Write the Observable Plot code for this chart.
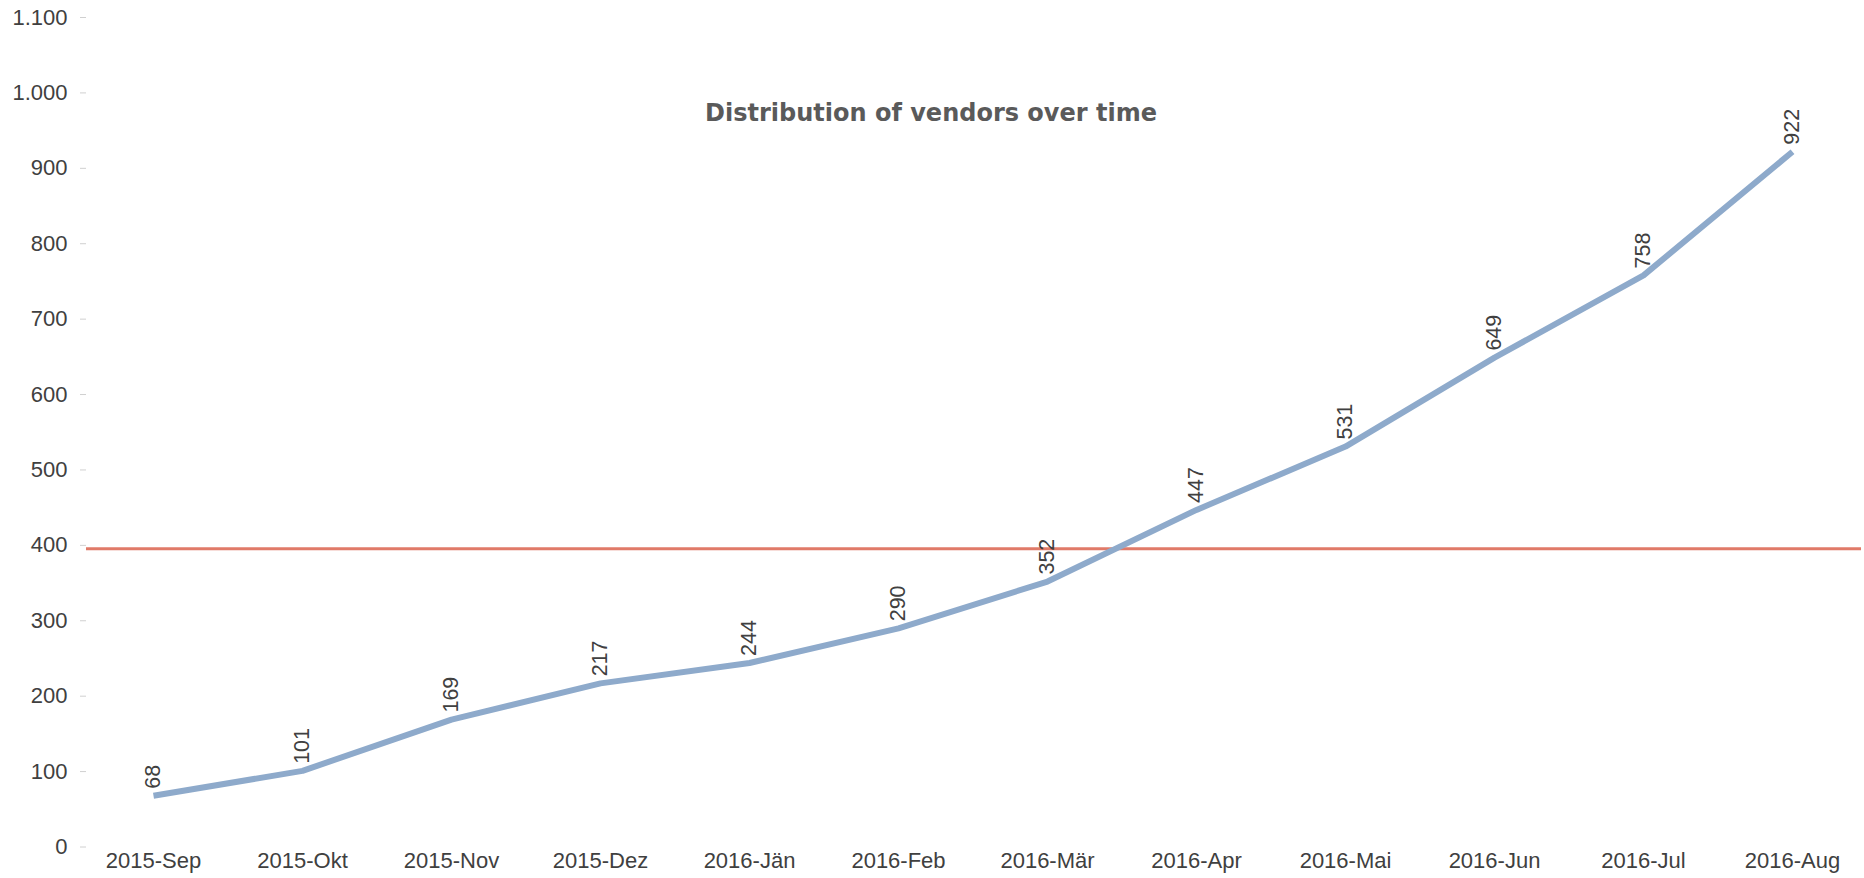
<!DOCTYPE html>
<html>
<head>
<meta charset="utf-8">
<script src="https://cdn.jsdelivr.net/npm/d3@7"></script>
<script src="https://cdn.jsdelivr.net/npm/@observablehq/plot@0.6"></script>
<style>
  html, body { margin: 0; padding: 0; background: #fff; }
  #chart { width: 1864px; height: 878px; }
</style>
</head>
<body>
<div id="chart"></div>
<script>
const months = ["2015-Sep","2015-Okt","2015-Nov","2015-Dez","2016-Jän","2016-Feb","2016-Mär","2016-Apr","2016-Mai","2016-Jun","2016-Jul","2016-Aug"];
const vendors = [68,101,169,217,244,290,352,447,531,649,758,922];
const yTicks = [0,100,200,300,400,500,600,700,800,900,1000,1100];
const title = "Distribution of vendors over time";

const data = months.map((m, i) => ({month: m, value: vendors[i]}));
const avg = d3.mean(vendors);
const deFmt = d3.formatLocale({decimal: ",", thousands: ".", grouping: [3], currency: ["", "€"]}).format(",d");

const chart = Plot.plot({
  width: 1864,
  height: 878,
  marginTop: 17,
  marginBottom: 31.5,
  marginLeft: 86,
  marginRight: 3,
  style: {fontFamily: "'Liberation Sans', Arial, sans-serif", fontSize: "22px", color: "#404040", background: "#fff"},
  x: {type: "point", domain: months, range: [148, 1797], padding: 0},
  y: {domain: [0, 1100]},
  marks: [
    Plot.axisY({ticks: yTicks, tickFormat: deFmt, tickSize: 6, tickPadding: 13, stroke: "#d0d0d0", fill: "#404040", label: null}),
    Plot.axisX({tickSize: 0, tickPadding: 5, fill: "#404040", label: null}),
    Plot.ruleY([avg], {stroke: "#e07a68", strokeWidth: 3}),
    Plot.line(data, {x: "month", y: "value", stroke: "#8eaacb", strokeWidth: 6, strokeLinejoin: "round", strokeLinecap: "butt"}),
    Plot.text(data, {x: "month", y: "value", text: d => String(d.value), rotate: -90, textAnchor: "start", lineAnchor: "middle", dy: -7, fontSize: 21.5, fill: "#404040"}),
    Plot.text([title], {frameAnchor: "top", dx: -43, dy: 96, lineAnchor: "middle", fontFamily: "'DejaVu Sans', Verdana, sans-serif", fontWeight: "bold", fontSize: 24, fill: "#5a5a5a"})
  ]
});
document.getElementById("chart").appendChild(chart);
</script>
</body>
</html>
